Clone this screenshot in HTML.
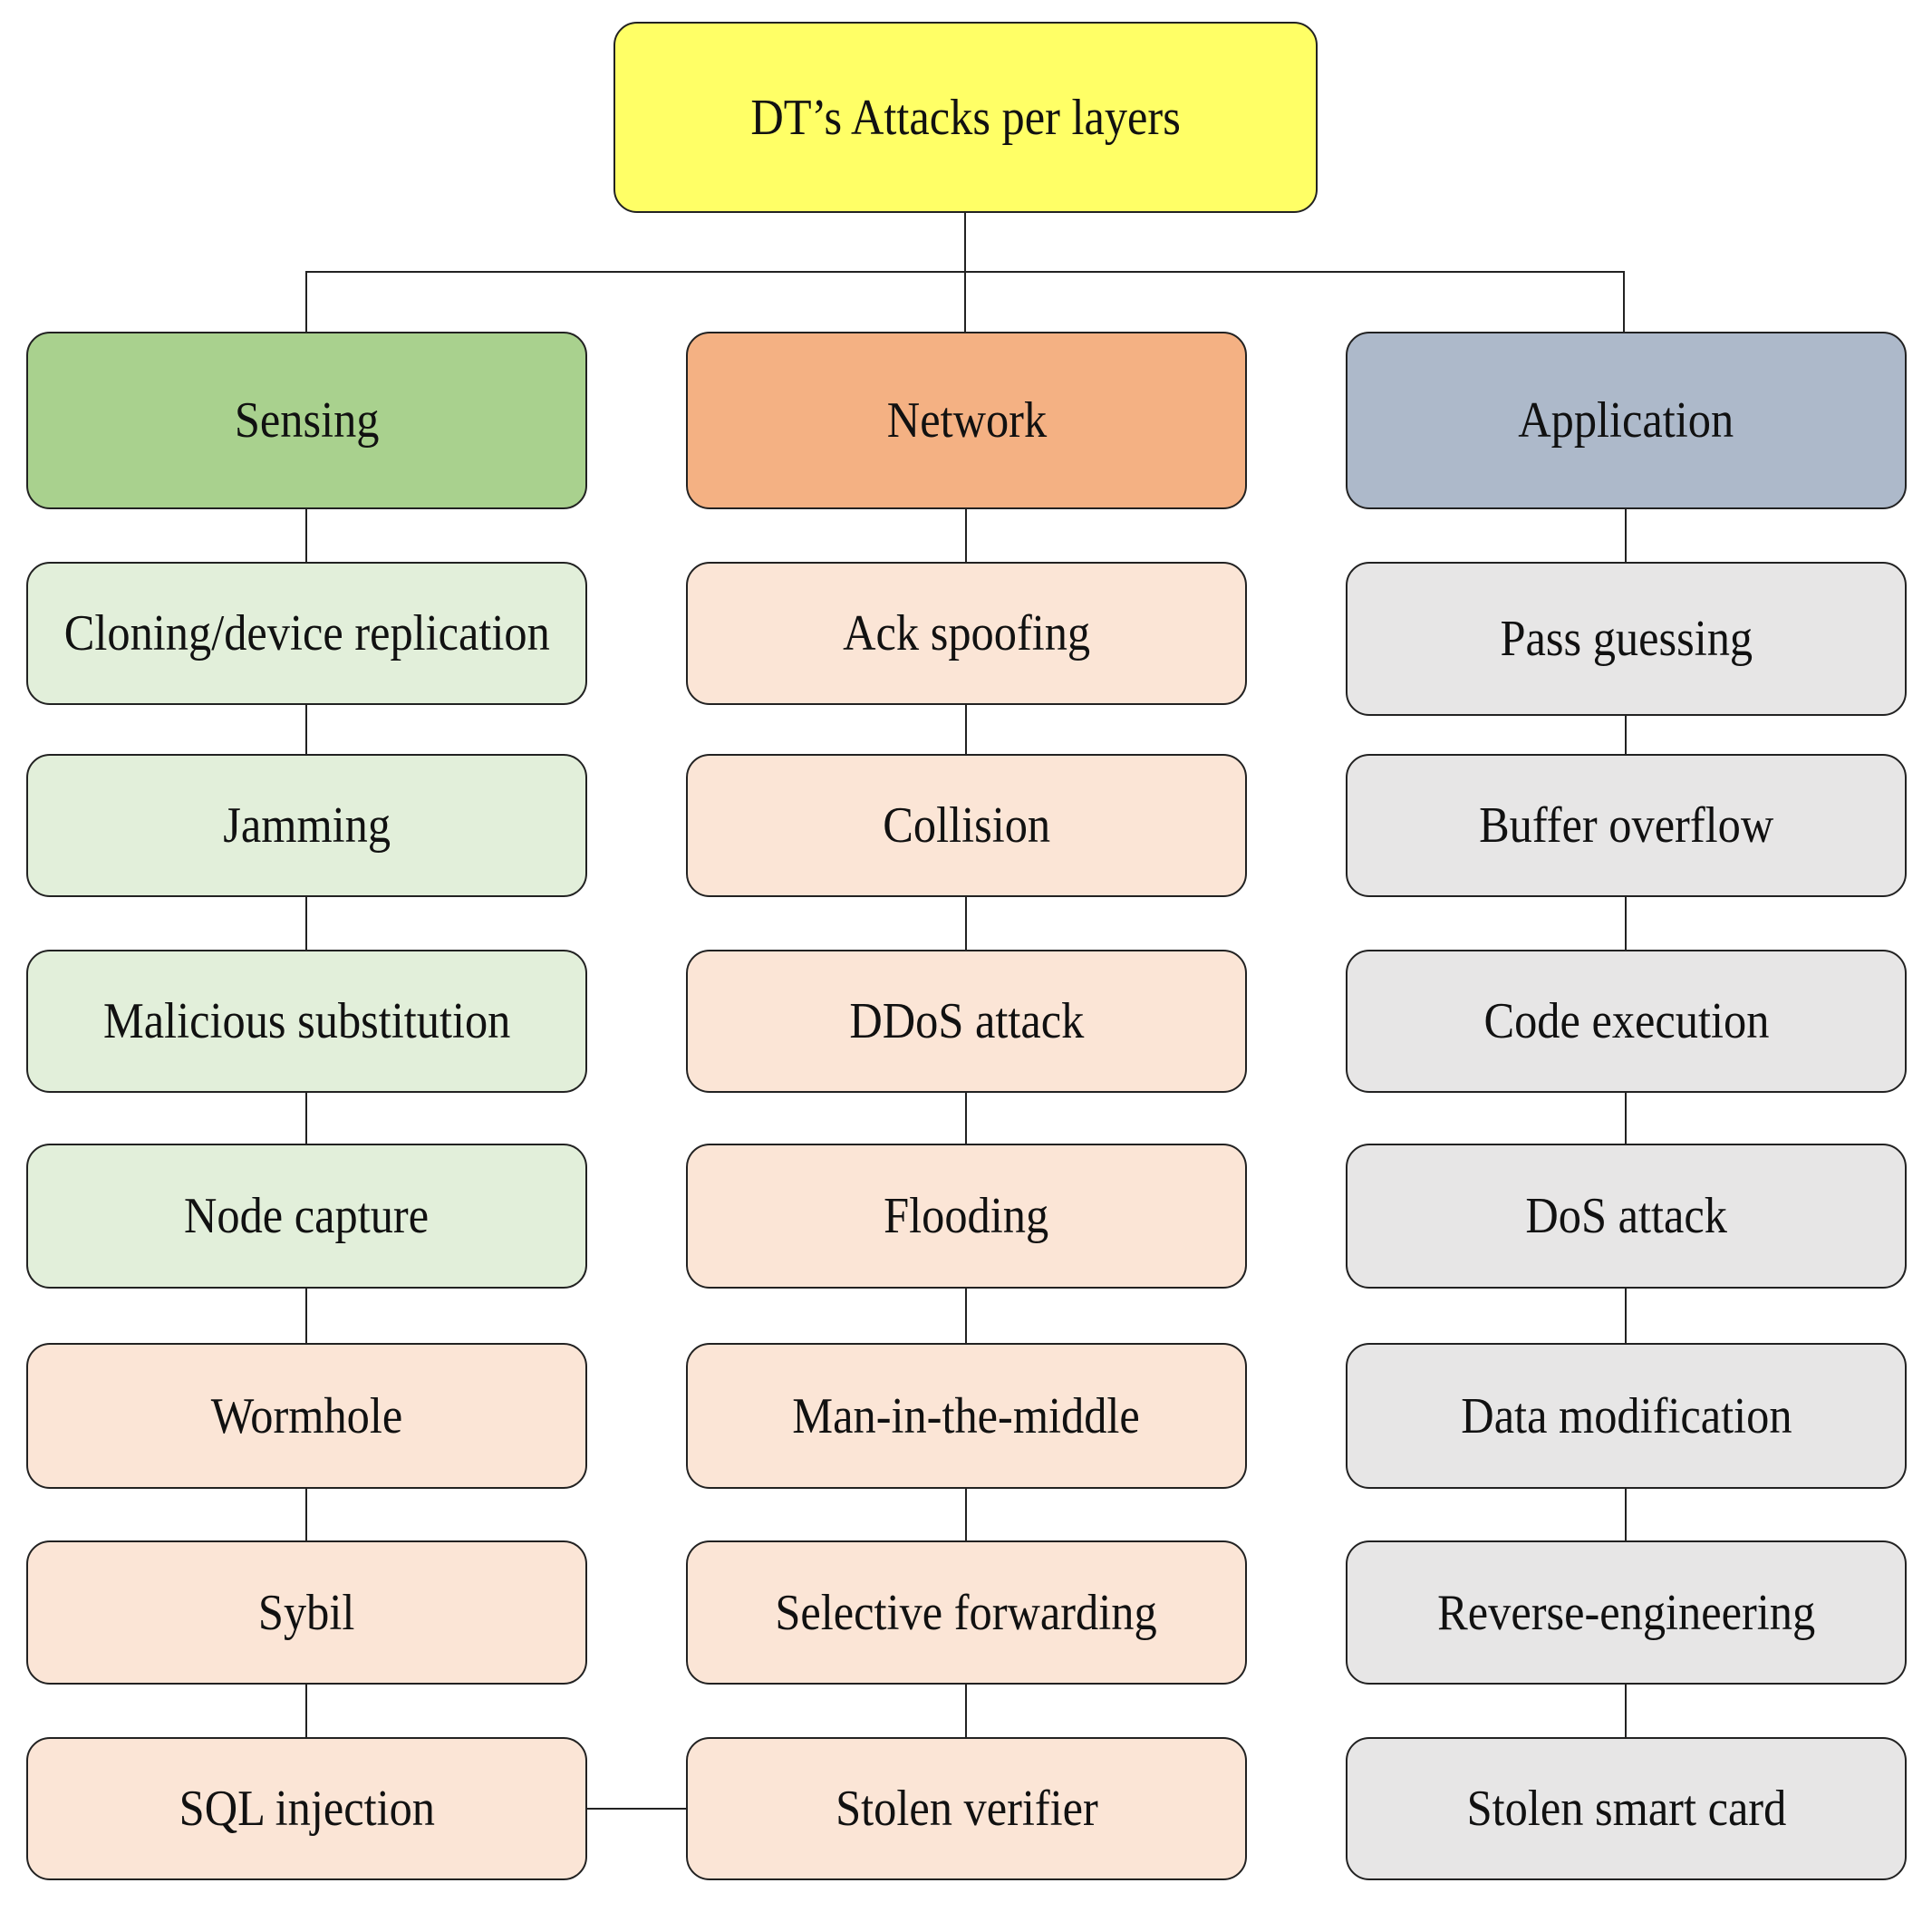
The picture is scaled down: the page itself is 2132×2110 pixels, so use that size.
<!DOCTYPE html>
<html><head><meta charset="utf-8"><style>
html,body{margin:0;padding:0;background:#fff;}
#c{position:relative;width:2132px;height:2110px;overflow:hidden;font-family:"Liberation Serif",serif;}
.b{position:absolute;box-sizing:border-box;border:2px solid #222;border-radius:26px;display:flex;align-items:center;justify-content:center;}
.b span{display:inline-block;font-size:56px;color:#111;transform:scaleX(0.9);white-space:nowrap;}
.l{position:absolute;background:#222;}
.g{background:#e2efda}.o{background:#fbe5d6}.a{background:#e7e6e6}
</style></head><body><div id="c">
<!-- connectors -->
<div class="l" style="left:1064px;top:234px;width:2px;height:132px"></div>
<div class="l" style="left:337px;top:299px;width:1456px;height:2px"></div>
<div class="l" style="left:337px;top:299px;width:2px;height:67px"></div>
<div class="l" style="left:1791px;top:299px;width:2px;height:67px"></div>
<div class="l" style="left:337px;top:560px;width:2px;height:1360px"></div>
<div class="l" style="left:1065px;top:560px;width:2px;height:1360px"></div>
<div class="l" style="left:1793px;top:560px;width:2px;height:1360px"></div>
<div class="l" style="left:645px;top:1995px;width:114px;height:2px"></div>

<div class="b" style="left:677px;top:24px;width:777px;height:211px;background:#ffff66"><span>DT’s Attacks per layers</span></div>

<div class="b" style="left:29px;top:366px;width:619px;height:196px;background:#a9d18e"><span>Sensing</span></div>
<div class="b" style="left:757px;top:366px;width:619px;height:196px;background:#f4b183"><span>Network</span></div>
<div class="b" style="left:1485px;top:366px;width:619px;height:196px;background:#adb9ca"><span>Application</span></div>

<div class="b g" style="left:29px;top:620px;width:619px;height:158px"><span>Cloning/device replication</span></div>
<div class="b g" style="left:29px;top:832px;width:619px;height:158px"><span>Jamming</span></div>
<div class="b g" style="left:29px;top:1048px;width:619px;height:158px"><span>Malicious substitution</span></div>
<div class="b g" style="left:29px;top:1262px;width:619px;height:160px"><span>Node capture</span></div>
<div class="b o" style="left:29px;top:1482px;width:619px;height:161px"><span>Wormhole</span></div>
<div class="b o" style="left:29px;top:1700px;width:619px;height:159px"><span>Sybil</span></div>
<div class="b o" style="left:29px;top:1917px;width:619px;height:158px"><span>SQL injection</span></div>

<div class="b o" style="left:757px;top:620px;width:619px;height:158px"><span>Ack spoofing</span></div>
<div class="b o" style="left:757px;top:832px;width:619px;height:158px"><span>Collision</span></div>
<div class="b o" style="left:757px;top:1048px;width:619px;height:158px"><span>DDoS attack</span></div>
<div class="b o" style="left:757px;top:1262px;width:619px;height:160px"><span>Flooding</span></div>
<div class="b o" style="left:757px;top:1482px;width:619px;height:161px"><span>Man-in-the-middle</span></div>
<div class="b o" style="left:757px;top:1700px;width:619px;height:159px"><span>Selective forwarding</span></div>
<div class="b o" style="left:757px;top:1917px;width:619px;height:158px"><span>Stolen verifier</span></div>

<div class="b a" style="left:1485px;top:620px;width:619px;height:170px"><span>Pass guessing</span></div>
<div class="b a" style="left:1485px;top:832px;width:619px;height:158px"><span>Buffer overflow</span></div>
<div class="b a" style="left:1485px;top:1048px;width:619px;height:158px"><span>Code execution</span></div>
<div class="b a" style="left:1485px;top:1262px;width:619px;height:160px"><span>DoS attack</span></div>
<div class="b a" style="left:1485px;top:1482px;width:619px;height:161px"><span>Data modification</span></div>
<div class="b a" style="left:1485px;top:1700px;width:619px;height:159px"><span>Reverse-engineering</span></div>
<div class="b a" style="left:1485px;top:1917px;width:619px;height:158px"><span>Stolen smart card</span></div>
</div></body></html>
